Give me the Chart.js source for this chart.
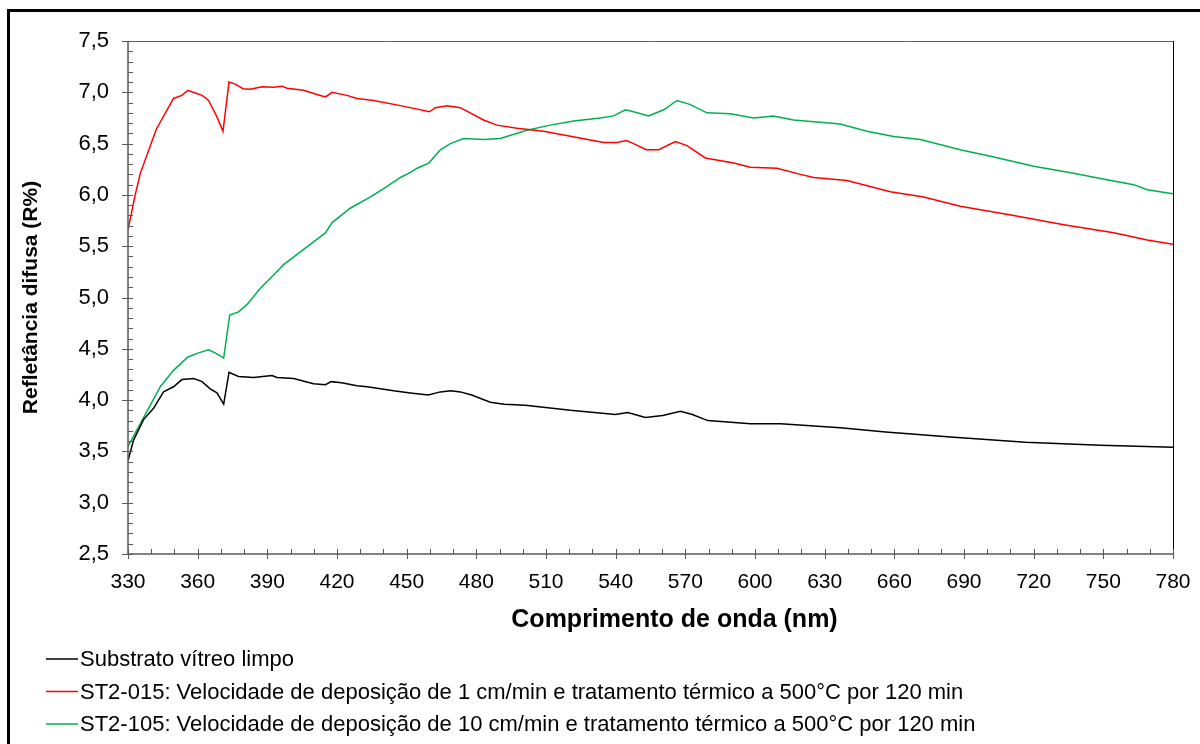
<!DOCTYPE html>
<html>
<head>
<meta charset="utf-8">
<script src="https://cdn.jsdelivr.net/npm/chart.js@4.4.1/dist/chart.umd.min.js"></script>
<style>
  html, body { margin: 0; padding: 0; background: #fff; }
  #wrap { width: 1200px; height: 744px; }
</style>
</head>
<body>
<div id="wrap"><canvas id="grafico" width="1200" height="744"></canvas></div>
<script>
// dados: comprimento de onda (nm) e refletância difusa (R%)
const substratoNm = [330, 332.4, 336.7, 341, 345.3, 349.6, 353.2, 358.3, 361.9, 365.4, 368.3, 371.2, 373.5, 377.6, 384.1, 392, 394.2, 401.3, 409.9, 415, 417.5, 422, 428.6, 433, 444.4, 451.6, 459.3, 464.5, 469, 473.1, 478, 486, 492, 501.1, 520.5, 539.9, 545.2, 552.8, 560.3, 567.9, 573, 579.7, 598.1, 611, 636.8, 656.2, 684.2, 716.5, 748.8, 780];
const substratoR = [3.41, 3.61, 3.81, 3.92, 4.08, 4.13, 4.20, 4.21, 4.18, 4.11, 4.07, 3.96, 4.27, 4.23, 4.22, 4.24, 4.22, 4.21, 4.16, 4.15, 4.18, 4.17, 4.14, 4.13, 4.09, 4.07, 4.05, 4.08, 4.09, 4.08, 4.05, 3.98, 3.96, 3.95, 3.90, 3.86, 3.88, 3.83, 3.85, 3.89, 3.86, 3.80, 3.77, 3.77, 3.73, 3.69, 3.64, 3.59, 3.56, 3.54];

const st2015Nm = [330, 333.1, 335.3, 342.2, 349.6, 353.2, 355.8, 358, 361.9, 364.7, 368.3, 370.9, 373.5, 376.2, 379.5, 382.7, 387.7, 392.7, 396.3, 398.5, 405.6, 414.2, 415.4, 417.8, 424.3, 428.6, 435.8, 447.3, 459.9, 462.3, 467.4, 473.1, 483.1, 488.9, 497.5, 509, 523.4, 534.8, 540.6, 544.6, 547.7, 553.2, 558.5, 565.7, 570.7, 578.6, 590.8, 598, 609.5, 619.5, 625.3, 639.6, 658.3, 672.6, 688.4, 711.4, 733, 754.5, 768.9, 780];
const st2015R = [5.66, 6.00, 6.21, 6.64, 6.94, 6.97, 7.02, 7.00, 6.97, 6.92, 6.76, 6.62, 7.10, 7.08, 7.035, 7.03, 7.055, 7.05, 7.06, 7.04, 7.02, 6.96, 6.96, 7.00, 6.97, 6.94, 6.92, 6.87, 6.81, 6.85, 6.87, 6.85, 6.73, 6.68, 6.65, 6.62, 6.56, 6.51, 6.51, 6.53, 6.50, 6.44, 6.44, 6.52, 6.48, 6.36, 6.31, 6.27, 6.26, 6.20, 6.17, 6.14, 6.03, 5.98, 5.89, 5.80, 5.71, 5.63, 5.56, 5.52];

const st2105Nm = [330, 335.3, 343.9, 349.6, 355.8, 360.4, 364.7, 368.3, 371.2, 373.8, 377.6, 381.2, 387, 392.7, 397, 404.5, 415, 417.9, 425.7, 434.4, 440.1, 447.3, 451.6, 454.5, 459.5, 464.5, 468.8, 474.5, 483.1, 490.3, 501.8, 511.8, 521.9, 533.4, 539.1, 544.2, 547.7, 554.2, 560.7, 566.4, 572.2, 579.3, 589.4, 599.4, 608, 616.6, 636.7, 648.2, 659.7, 671.2, 688.4, 702.8, 720, 737.2, 748.7, 763.1, 768.9, 780];
const st2105R = [3.55, 3.77, 4.13, 4.29, 4.42, 4.46, 4.49, 4.45, 4.41, 4.83, 4.86, 4.93, 5.09, 5.22, 5.32, 5.45, 5.63, 5.73, 5.87, 5.98, 6.06, 6.17, 6.22, 6.26, 6.31, 6.44, 6.50, 6.55, 6.54, 6.55, 6.63, 6.68, 6.72, 6.75, 6.77, 6.83, 6.81, 6.77, 6.83, 6.92, 6.88, 6.80, 6.79, 6.75, 6.77, 6.73, 6.69, 6.62, 6.57, 6.54, 6.44, 6.37, 6.28, 6.21, 6.16, 6.10, 6.05, 6.01];

const nomesSeries = [
    'Substrato vítreo limpo',
    'ST2-015: Velocidade de deposição de 1 cm/min e tratamento térmico a 500°C por 120 min',
    'ST2-105: Velocidade de deposição de 10 cm/min e tratamento térmico a 500°C por 120 min'
];
const coresSeries = ['#000000', '#ff0000', '#00b050'];
const tituloX = 'Comprimento de onda (nm)';
const tituloY = 'Refletância difusa (R%)';

const eixoX = { min: 330, max: 780, passo: 30, menor: 10 };
const eixoY = { min: 2.5, max: 7.5, passo: 0.5, menor: 0.1 };

const fonte = 'Liberation Sans, Arial, sans-serif';

/*
 * junta as listas de x e y em pontos {x, y}
 */
const pontos = function (xs, ys) {
    return xs.map((x, i) => ({ x: x, y: ys[i] }));
};

/*
 * moldura externa, eixos, marcas de escala, título do eixo x e legenda
 */
const molduraPlugin = {
    id: 'moldura',
    beforeDraw(chart) {
        const ctx = chart.ctx;
        ctx.save();
        ctx.fillStyle = '#fff';
        ctx.fillRect(0, 0, chart.width, chart.height);
        ctx.strokeStyle = '#000';
        ctx.lineWidth = 3;
        ctx.strokeRect(8.5, 10.5, 1400, 1000);
        ctx.restore();
    },
    afterDatasetsDraw(chart) {
        const ctx = chart.ctx;
        const a = chart.chartArea;
        const sx = chart.scales.x;
        const sy = chart.scales.y;
        ctx.save();
        ctx.lineWidth = 1;

        // linha do topo e da direita
        ctx.strokeStyle = '#606060';
        ctx.beginPath();
        ctx.moveTo(a.left, a.top + 0.5);
        ctx.lineTo(a.right, a.top + 0.5);
        ctx.stroke();
        ctx.strokeStyle = '#000';
        ctx.beginPath();
        ctx.moveTo(a.right + 0.5, a.top);
        ctx.lineTo(a.right + 0.5, a.bottom);
        ctx.stroke();

        // eixos
        ctx.strokeStyle = '#595959';
        ctx.lineWidth = 1.5;
        ctx.beginPath();
        ctx.moveTo(a.left, a.top);
        ctx.lineTo(a.left, a.bottom);
        ctx.lineTo(a.right, a.bottom);
        ctx.stroke();

        ctx.lineWidth = 1;
        ctx.beginPath();
        for (let v = eixoY.min; v <= eixoY.max + 1e-9; v += eixoY.menor) {
            const y = Math.round(sy.getPixelForValue(v)) + 0.5;
            const maior = Math.abs(v / eixoY.passo - Math.round(v / eixoY.passo)) < 1e-6;
            ctx.moveTo(a.left - (maior ? 6 : 0), y);
            ctx.lineTo(a.left + 5, y);
        }
        for (let v = eixoX.min; v <= eixoX.max + 1e-9; v += eixoX.menor) {
            const x = Math.round(sx.getPixelForValue(v)) + 0.5;
            const maior = (v - eixoX.min) % eixoX.passo === 0;
            ctx.moveTo(x, a.bottom + (maior ? 5 : 0));
            ctx.lineTo(x, a.bottom - 5);
        }
        ctx.stroke();

        // título do eixo x (um pouco deslocado para a direita, como no original)
        ctx.fillStyle = '#000';
        ctx.font = 'bold 25px ' + fonte;
        ctx.textAlign = 'center';
        ctx.textBaseline = 'middle';
        ctx.fillText(tituloX, (a.left + a.right) / 2 + 24, 620);

        // legenda
        ctx.font = '22px ' + fonte;
        ctx.textBaseline = 'middle';
        ctx.textAlign = 'left';
        chart.data.datasets.forEach((ds, i) => {
            const y = 659 + i * 32.5;
            ctx.strokeStyle = ds.borderColor;
            ctx.lineWidth = 1.5;
            ctx.beginPath();
            ctx.moveTo(46, y);
            ctx.lineTo(78, y);
            ctx.stroke();
            ctx.fillStyle = '#000';
            ctx.fillText(ds.label, 80, y + 1);
        });
        ctx.restore();
    }
};

document.addEventListener('DOMContentLoaded', function () {
    const ctx = document.getElementById('grafico').getContext('2d');
    const series = [
        pontos(substratoNm, substratoR),
        pontos(st2015Nm, st2015R),
        pontos(st2105Nm, st2105R)
    ];

    new Chart(ctx, {
        type: 'line',
        data: {
            datasets: series.map((d, i) => ({
                label: nomesSeries[i],
                data: d,
                borderColor: coresSeries[i],
                borderWidth: 1.5,
                pointRadius: 0,
                tension: 0,
                fill: false
            }))
        },
        options: {
            responsive: false,
            animation: false,
            layout: { padding: { left: 0, top: 41, right: 27, bottom: 109 } },
            plugins: {
                legend: { display: false },
                tooltip: { enabled: false }
            },
            scales: {
                x: {
                    type: 'linear',
                    min: eixoX.min,
                    max: eixoX.max,
                    grid: { display: false, drawTicks: false },
                    border: { display: false },
                    ticks: {
                        stepSize: eixoX.passo,
                        color: '#000',
                        padding: 16,
                        font: { family: fonte, size: 21 }
                    },
                    title: { display: false },
                    afterFit(scale) {
                        scale.height = 81;
                        scale.paddingLeft = 0;
                        scale.paddingRight = 0;
                    }
                },
                y: {
                    type: 'linear',
                    min: eixoY.min,
                    max: eixoY.max,
                    grid: { display: false, drawTicks: false },
                    border: { display: false },
                    ticks: {
                        stepSize: eixoY.passo,
                        color: '#000',
                        padding: 19,
                        font: { family: fonte, size: 22 },
                        callback: v => v.toFixed(1).replace('.', ',')
                    },
                    title: {
                        display: true,
                        text: tituloY,
                        color: '#000',
                        padding: { top: 19, bottom: 0 },
                        font: { family: fonte, size: 21, weight: 'bold' }
                    },
                    afterFit(scale) {
                        scale.width = 128;
                        scale.paddingTop = 0;
                        scale.paddingBottom = 0;
                    }
                }
            }
        },
        plugins: [molduraPlugin]
    });
});
</script>
</body>
</html>
